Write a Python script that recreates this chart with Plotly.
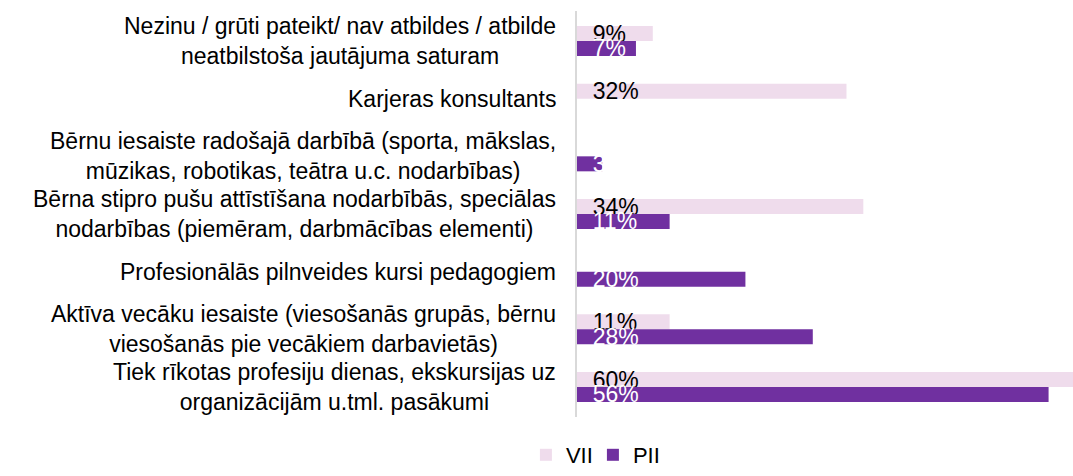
import plotly.graph_objects as go

categories = [
    "Nezinu / grūti pateikt/ nav atbildes / atbilde<br>neatbilstoša jautājuma saturam",
    "Karjeras konsultants",
    "Bērnu iesaiste radošajā darbībā (sporta, mākslas,<br>mūzikas, robotikas, teātra u.c. nodarbības)",
    "Bērna stipro pušu attīstīšana nodarbībās, speciālas<br>nodarbības (piemēram, darbmācības elementi)",
    "Profesionālās pilnveides kursi pedagogiem",
    "Aktīva vecāku iesaiste (viesošanās grupās, bērnu<br>viesošanās pie vecākiem darbavietās)",
    "Tiek rīkotas profesiju dienas, ekskursijas uz<br>organizācijām u.tml. pasākumi",
]
vii_values = [0.09, 0.32, None, 0.34, None, 0.11, 0.60]
pii_values = [0.07, None, 0.03, 0.11, 0.20, 0.28, 0.56]

VII_COLOR = "#efdcec"
PII_COLOR = "#7030a0"
FONT = "Liberation Sans, Arial, sans-serif"
FS = 23

def labels(vals):
    return ["\u00a0\u00a0" + f"{round(v*100)}%" if v is not None else "" for v in vals]

fig = go.Figure()
fig.add_trace(go.Bar(
    name="VII", y=categories, x=vii_values, orientation="h",
    marker=dict(color=VII_COLOR, line=dict(width=0)),
    text=labels(vii_values), textposition="inside", insidetextanchor="start",
    textangle=0, constraintext="none",
    textfont=dict(color="#000000", size=FS, family=FONT),
))
fig.add_trace(go.Bar(
    name="PII", y=categories, x=pii_values, orientation="h",
    marker=dict(color=PII_COLOR, line=dict(width=0)),
    text=labels(pii_values), textposition="inside", insidetextanchor="start",
    textangle=0, constraintext="none",
    textfont=dict(color="#ffffff", size=FS, family=FONT),
))

for cat in categories:
    fig.add_annotation(
        x=0, xref="paper", xanchor="right", xshift=-19,
        y=cat, yref="y", yanchor="middle",
        text=cat, align="center", showarrow=False,
        font=dict(size=FS, color="#000000", family=FONT),
    )

fig.update_layout(
    width=1073, height=476,
    margin=dict(l=577, r=0, t=11, b=59, autoexpand=False),
    barmode="group", bargap=0.48, bargroupgap=0,
    plot_bgcolor="white", paper_bgcolor="white",
    font=dict(family=FONT, size=FS, color="#000000"),
    showlegend=True,
    legend=dict(orientation="h", x=-0.103, xanchor="left",
                yref="container", y=-0.01, yanchor="bottom",
                entrywidth=22, entrywidthmode="pixels",
                font=dict(size=22, color="#000000"),
                traceorder="normal"),
    uniformtext=dict(minsize=FS, mode="show"),
)
fig.update_xaxes(range=[0, 0.589], showgrid=False, showticklabels=False,
                 zeroline=False, showline=False, ticks="", automargin=False)
fig.update_yaxes(autorange="reversed", showgrid=False, showline=True,
                 linecolor="#d9d9d9", linewidth=2, ticks="",
                 showticklabels=False, automargin=False)

fig.write_html(
    "out.html",
    config={"displayModeBar": False},
    post_script="document.body.style.margin='0';document.body.style.overflow='hidden';",
)
